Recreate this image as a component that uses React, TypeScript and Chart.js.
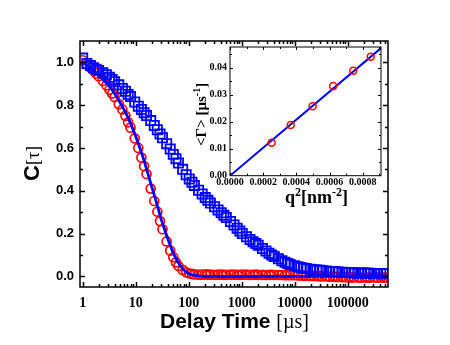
import { useEffect, useRef } from "react";
import { Chart, registerables } from "chart.js";
Chart.register(...registerables);

// Delay times (µs) of correlator channels
const tau = [
  1, 1.2, 1.4, 1.6, 1.8, 2, 2.4, 2.8, 3.2, 3.6, 4, 4.8, 5.6, 6.4, 7.2, 8, 9.6, 11.2, 12.8, 14.4, 16,
  19.2, 22.4, 25.6, 28.8, 32, 38.4, 44.8, 51.2, 57.6, 64, 76.8, 89.6, 102.4, 115.2, 128, 153.6, 179.2,
  204.8, 230.4, 256, 307, 358, 410, 461, 512, 614, 717, 819, 922, 1024, 1229, 1434, 1638, 1843, 2048,
  2458, 2867, 3277, 3686, 4096, 4915, 5734, 6554, 7373, 8192, 9830, 11469, 13107, 14746, 16384, 19661,
  22938, 26214, 29491, 32768, 39322, 45875, 52429, 58982, 65536, 78643, 91750, 104858, 117965, 131072,
  157286, 183501, 209715, 235930, 262144, 314573, 367002, 419430, 471859, 524288,
];

// Red circles
const redC = [
  1.01, 0.99, 0.975, 0.962, 0.948, 0.935, 0.913, 0.893, 0.872, 0.855, 0.838, 0.805, 0.78, 0.75, 0.72,
  0.695, 0.645, 0.6, 0.555, 0.515, 0.478, 0.41, 0.352, 0.302, 0.258, 0.22, 0.163, 0.12, 0.089, 0.065,
  0.048, 0.03, 0.019, 0.013, 0.011, 0.009, 0.008, 0.008, 0.009, 0.008, 0.008, 0.007, 0.008, 0.008,
  0.007, 0.007, 0.008, 0.008, 0.007, 0.007, 0.008, 0.008, 0.007, 0.007, 0.008, 0.007, 0.007, 0.006,
  0.007, 0.007, 0.006, 0.006, 0.006, 0.005, 0.006, 0.005, 0.005, 0.004, 0.004, 0.003, 0.003, 0.002,
  0.001, 0.001, 0.0, 0.0, -0.001, -0.002, -0.002, -0.003, -0.003, -0.004, -0.004, -0.005, -0.005,
  -0.005, -0.006, -0.006, -0.006, -0.006, -0.006, -0.006, -0.006, -0.006, -0.006, -0.006,
];

// Blue squares
const blueC = [
  1.02, 0.995, 0.985, 0.975, 0.968, 0.962, 0.952, 0.942, 0.93, 0.92, 0.91, 0.895, 0.878, 0.865, 0.85,
  0.84, 0.815, 0.795, 0.78, 0.765, 0.752, 0.728, 0.705, 0.685, 0.665, 0.648, 0.62, 0.595, 0.57, 0.55,
  0.53, 0.5, 0.475, 0.455, 0.44, 0.425, 0.402, 0.385, 0.368, 0.355, 0.343, 0.325, 0.31, 0.297, 0.285,
  0.275, 0.256, 0.24, 0.225, 0.212, 0.2, 0.185, 0.172, 0.162, 0.153, 0.145, 0.13, 0.118, 0.108, 0.1,
  0.093, 0.082, 0.073, 0.066, 0.06, 0.055, 0.049, 0.045, 0.041, 0.038, 0.036, 0.033, 0.031, 0.029,
  0.028, 0.027, 0.025, 0.023, 0.022, 0.021, 0.02, 0.019, 0.018, 0.018, 0.017, 0.016, 0.016, 0.015,
  0.015, 0.014, 0.014, 0.013, 0.013, 0.012, 0.012, 0.012,
];

// Fit curve (blue line)
const fitT = [1, 1.5, 2, 3, 4, 5, 6, 7, 8, 10, 12, 14, 17, 20, 25, 30, 35, 40, 50, 60, 70, 80, 100, 130, 170, 250, 1000, 10000, 100000, 575000];
const fitC = [1.0, 0.97, 0.94, 0.895, 0.855, 0.815, 0.78, 0.748, 0.715, 0.655, 0.6, 0.55, 0.48, 0.42, 0.34, 0.27, 0.22, 0.178, 0.115, 0.075, 0.048, 0.031, 0.013, 0.004, 0.001, 0, 0, 0, 0, 0];

const xTickValues = [1, 10, 100, 1000, 10000, 100000];
const yTickValues = [0, 0.2, 0.4, 0.6, 0.8, 1.0];

// Inset
const q2 = [0.000251, 0.000366, 0.000498, 0.000622, 0.000743, 0.000848];
const gamma = [0.0122, 0.0188, 0.0257, 0.0332, 0.0389, 0.0441];
const lineQ2 = [0, 0.00091];
const lineGamma = [0, 0.0473];
const insetXTicks = [0, 0.0002, 0.0004, 0.0006, 0.0008];
const insetYTicks = [0, 0.01, 0.02, 0.03, 0.04];

const SERIF = "'Times New Roman', 'Liberation Serif', serif";
const SANS = "Arial, 'Liberation Sans', sans-serif";

type Seg = { text: string; font: string; dy?: number };

function drawSegs(ctx: CanvasRenderingContext2D, segs: Seg[], x: number, y: number) {
  let cx = x;
  for (const s of segs) {
    ctx.font = s.font;
    ctx.fillText(s.text, cx, y + (s.dy || 0));
    cx += ctx.measureText(s.text).width;
  }
}

const frameTicks = {
  id: "frameTicks",
  afterDraw(chart: any, _args: any, opts: any) {
    const { ctx, chartArea } = chart;
    const { left, right, top, bottom } = chartArea;
    const xs = chart.scales.x;
    const ys = chart.scales.y;
    ctx.save();
    ctx.strokeStyle = "#000";
    ctx.lineWidth = opts.lw;
    ctx.beginPath();
    const xt = (vals: number[], len: number) => {
      for (const v of vals) {
        const p = Math.round(xs.getPixelForValue(v)) + 0.5;
        if (p < left || p > right) continue;
        ctx.moveTo(p, bottom);
        ctx.lineTo(p, bottom - len);
        ctx.moveTo(p, top);
        ctx.lineTo(p, top + len);
      }
    };
    const yt = (vals: number[], len: number) => {
      for (const v of vals) {
        const p = Math.round(ys.getPixelForValue(v)) + 0.5;
        if (p < top || p > bottom) continue;
        ctx.moveTo(left, p);
        ctx.lineTo(left + len, p);
        ctx.moveTo(right, p);
        ctx.lineTo(right - len, p);
      }
    };
    xt(opts.xMajor, opts.major);
    xt(opts.xMinor, opts.minor);
    yt(opts.yMajor, opts.major);
    yt(opts.yMinor, opts.minor);
    ctx.stroke();
    ctx.strokeRect(left, top, right - left, bottom - top);
    ctx.restore();
  },
};

const mainTitles = {
  id: "mainTitles",
  afterDraw(chart: any) {
    const ctx: CanvasRenderingContext2D = chart.ctx;
    ctx.save();
    ctx.fillStyle = "#000";
    ctx.textBaseline = "alphabetic";
    ctx.textAlign = "left";
    drawSegs(ctx, [
      { text: "Delay Time ", font: `bold 21px ${SANS}` },
      { text: "[\u00b5s]", font: `20px ${SERIF}` },
    ], 160, 328);
    ctx.translate(39, 181);
    ctx.rotate(-Math.PI / 2);
    drawSegs(ctx, [
      { text: "C", font: `bold 22px ${SANS}` },
      { text: "[\u03c4]", font: `18px ${SERIF}` },
    ], 0, 0);
    ctx.restore();
  },
};

const insetTitles = {
  id: "insetTitles",
  afterDraw(chart: any) {
    const ctx: CanvasRenderingContext2D = chart.ctx;
    ctx.save();
    ctx.fillStyle = "#000";
    ctx.textBaseline = "alphabetic";
    ctx.textAlign = "left";
    drawSegs(ctx, [
      { text: "q", font: `bold 18px ${SERIF}` },
      { text: "2", font: `bold 12px ${SERIF}`, dy: -7 },
      { text: "[nm", font: `bold 18px ${SERIF}` },
      { text: "-2", font: `bold 12px ${SERIF}`, dy: -7 },
      { text: "]", font: `bold 18px ${SERIF}` },
    ], 285, 203);
    ctx.translate(206, 146);
    ctx.rotate(-Math.PI / 2);
    drawSegs(ctx, [
      { text: "<\u0393> [\u00b5s", font: `bold 15px ${SERIF}` },
      { text: "-1", font: `bold 10px ${SERIF}`, dy: -6 },
      { text: "]", font: `bold 15px ${SERIF}` },
    ], 0, 0);
    ctx.restore();
  },
};

export default function App() {
  const mainRef = useRef<HTMLCanvasElement>(null);
  const insetRef = useRef<HTMLCanvasElement>(null);

  useEffect(() => {
    const xMinor: number[] = [];
    for (let d = 1; d <= 100000; d *= 10) for (let k = 2; k <= 9; k++) xMinor.push(d * k);
    const yMinor = [0.1, 0.3, 0.5, 0.7, 0.9];

    const main = new Chart(mainRef.current!, {
      type: "scatter",
      data: {
        datasets: [
          {
            type: "line",
            data: fitT.map((t, i) => ({ x: t, y: fitC[i] })),
            borderColor: "#0000ff",
            borderWidth: 2.8,
            pointRadius: 0,
            showLine: true,
            fill: false,
            cubicInterpolationMode: "monotone",
            order: 0,
          } as any,
          {
            data: tau.map((t, i) => ({ x: t, y: blueC[i] })),
            pointStyle: "rect",
            pointRadius: 6.5,
            borderColor: "#0000ff",
            backgroundColor: "rgba(0,0,0,0)",
            borderWidth: 1.8,
            order: 1,
          },
          {
            data: tau.map((t, i) => ({ x: t, y: redC[i] })),
            pointStyle: "circle",
            pointRadius: 4.5,
            borderColor: "#ff0000",
            backgroundColor: "rgba(0,0,0,0)",
            borderWidth: 1.7,
            order: 2,
          },
        ],
      },
      options: {
        responsive: false,
        animation: false,
        devicePixelRatio: 1,
        layout: { padding: { left: 0, top: 41, right: 62, bottom: 0 } },
        plugins: {
          legend: { display: false },
          tooltip: { enabled: false },
          frameTicks: { lw: 1.5, major: 5, minor: 3, xMajor: xTickValues, xMinor, yMajor: yTickValues, yMinor },
        } as any,
        scales: {
          x: {
            type: "logarithmic",
            min: 0.89,
            max: 575000,
            grid: { display: false, drawTicks: false },
            border: { display: false },
            afterBuildTicks: (s: any) => {
              s.ticks = xTickValues.map((v) => ({ value: v }));
            },
            afterFit: (s: any) => {
              s.height = 58;
            },
            ticks: {
              autoSkip: false,
              maxRotation: 0,
              padding: 8,
              color: "#000",
              font: { family: SERIF, size: 14, weight: "bold" },
              callback: (v: any) => String(v),
            },
          },
          y: {
            type: "linear",
            min: -0.05,
            max: 1.1,
            grid: { display: false, drawTicks: false },
            border: { display: false },
            afterBuildTicks: (s: any) => {
              s.ticks = yTickValues.map((v) => ({ value: v }));
            },
            afterFit: (s: any) => {
              s.width = 80;
            },
            ticks: {
              padding: 6,
              color: "#000",
              font: { family: SANS, size: 13, weight: "bold" },
              callback: (v: any) => Number(v).toFixed(1),
            },
          },
        },
      },
      plugins: [frameTicks, mainTitles],
    });

    const inset = new Chart(insetRef.current!, {
      type: "scatter",
      data: {
        datasets: [
          {
            type: "line",
            data: lineQ2.map((q, i) => ({ x: q, y: lineGamma[i] })),
            borderColor: "#0000ff",
            borderWidth: 2,
            pointRadius: 0,
            showLine: true,
            fill: false,
            order: 1,
          } as any,
          {
            data: q2.map((q, i) => ({ x: q, y: gamma[i] })),
            pointStyle: "circle",
            pointRadius: 3.5,
            borderColor: "#ff0000",
            backgroundColor: "rgba(0,0,0,0)",
            borderWidth: 1.5,
            order: 0,
          },
        ],
      },
      options: {
        responsive: false,
        animation: false,
        devicePixelRatio: 1,
        layout: { padding: { left: 0, top: 47, right: 69, bottom: 0 } },
        plugins: {
          legend: { display: false },
          tooltip: { enabled: false },
          frameTicks: {
            lw: 1,
            major: 3,
            minor: 2,
            xMajor: insetXTicks,
            xMinor: [0.0001, 0.0003, 0.0005, 0.0007, 0.0009],
            yMajor: insetYTicks,
            yMinor: [0.005, 0.015, 0.025, 0.035, 0.045],
          },
        } as any,
        scales: {
          x: {
            type: "linear",
            min: 0,
            max: 0.00091,
            grid: { display: false, drawTicks: false },
            border: { display: false },
            afterBuildTicks: (s: any) => {
              s.ticks = insetXTicks.map((v) => ({ value: v }));
            },
            afterFit: (s: any) => {
              s.height = 169.3;
            },
            ticks: {
              autoSkip: false,
              maxRotation: 0,
              padding: 1,
              color: "#000",
              font: { family: SERIF, size: 10, weight: "bold" },
              callback: (v: any) => Number(v).toFixed(4),
            },
          },
          y: {
            type: "linear",
            min: 0,
            max: 0.0477,
            grid: { display: false, drawTicks: false },
            border: { display: false },
            afterBuildTicks: (s: any) => {
              s.ticks = insetYTicks.map((v) => ({ value: v }));
            },
            afterFit: (s: any) => {
              s.width = 230;
            },
            ticks: {
              padding: 3,
              color: "#000",
              font: { family: SERIF, size: 10, weight: "bold" },
              callback: (v: any) => Number(v).toFixed(2),
            },
          },
        },
      },
      plugins: [frameTicks, insetTitles],
    });

    return () => {
      main.destroy();
      inset.destroy();
    };
  }, []);

  return (
    <div style={{ position: "fixed", left: 0, top: 0, width: 450, height: 345, background: "#fff" }}>
      <canvas ref={mainRef} width={450} height={345} style={{ position: "absolute", left: 0, top: 0, width: 450, height: 345 }} />
      <canvas ref={insetRef} width={450} height={345} style={{ position: "absolute", left: 0, top: 0, width: 450, height: 345 }} />
    </div>
  );
}
